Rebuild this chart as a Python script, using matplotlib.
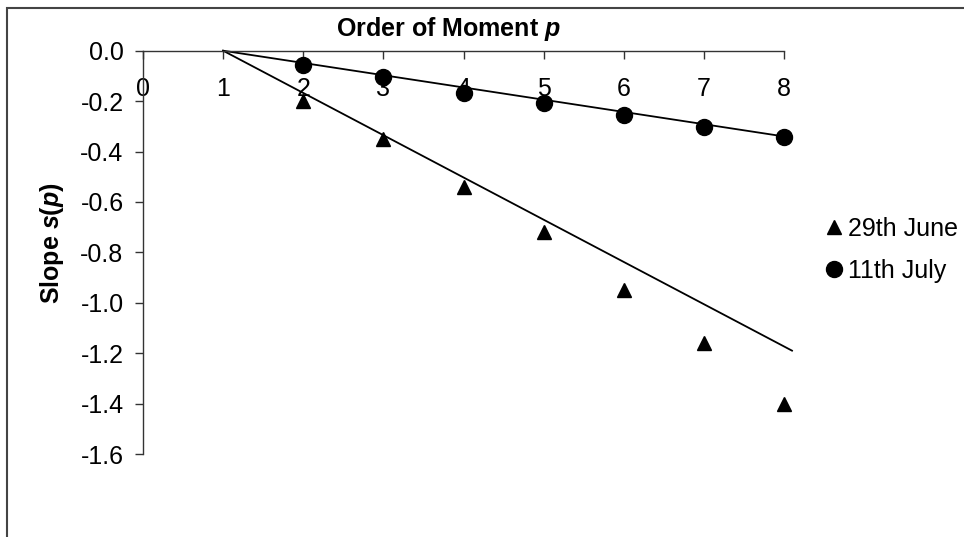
import numpy as np
import matplotlib
matplotlib.use("Agg")
import matplotlib.pyplot as plt
from matplotlib.patches import Rectangle

plt.rcParams['font.family'] = ['Liberation Sans', 'DejaVu Sans']
plt.rcParams['axes.unicode_minus'] = False
plt.rcParams['mathtext.fontset'] = 'custom'
plt.rcParams['mathtext.it'] = 'Liberation Sans:italic:bold'
plt.rcParams['mathtext.rm'] = 'Liberation Sans:bold'

# data
order_p = [2, 3, 4, 5, 6, 7, 8]
june_slope = [-0.20, -0.35, -0.54, -0.72, -0.95, -1.16, -1.40]
july_slope = [-0.057, -0.103, -0.169, -0.209, -0.255, -0.301, -0.341]

# straight reference lines (start at p=1, s=0)
fit_p = [1, 8.1]
june_fit = [0.0, -1.19]
july_fit = [0.0, -0.345]

x_ticks = [0, 1, 2, 3, 4, 5, 6, 7, 8]
y_ticks = [0.0, -0.2, -0.4, -0.6, -0.8, -1.0, -1.2, -1.4, -1.6]

W, H = 964, 537
fig = plt.figure(figsize=(W / 100, H / 100), dpi=100)
ax = fig.add_axes([143 / W, 1 - 454 / H, (784 - 143) / W, (454 - 50.7) / H])

fs = 18

ax.plot(fit_p, june_fit, color='black', lw=1.3, clip_on=False)
ax.plot(fit_p, july_fit, color='black', lw=1.3, clip_on=False)
ax.plot(order_p, june_slope, ls='none', marker='^', ms=9.5, color='black',
        label='29th June', clip_on=False)
ax.plot(order_p, july_slope, ls='none', marker='o', ms=11.5, color='black',
        label='11th July', clip_on=False)

ax.set_xlim(0, 8)
ax.set_ylim(-1.6, 0)
ax.spines['top'].set_visible(False)
ax.spines['right'].set_visible(False)
ax.spines['bottom'].set_position(('data', 0))
for s in ['left', 'bottom']:
    ax.spines[s].set_color('#333333')
    ax.spines[s].set_linewidth(1.0)

ax.set_xticks(x_ticks)
ax.set_xticklabels([str(v) for v in x_ticks])
ax.set_yticks(y_ticks)
ax.set_yticklabels(['%.1f' % v for v in y_ticks])
ax.tick_params(axis='x', direction='out', length=6, width=1, color='#333333',
               pad=13, labelsize=fs)
ax.tick_params(axis='y', direction='out', length=6, width=1, color='#333333',
               pad=8, labelsize=fs)
ax.patch.set_visible(False)

fig.text(448 / W, 1 - 29 / H, r'Order of Moment $\mathit{p}$', ha='center', va='center',
         fontsize=fs, fontweight='bold')
fig.text(52 / W, 1 - 243 / H, r'Slope $\mathit{s(p)}$', ha='center', va='center',
         rotation=90, fontsize=fs, fontweight='bold')

fig.legend(loc='upper left', bbox_to_anchor=(826 / W, 1 - 217 / H), frameon=False,
           fontsize=fs, handlelength=0.6, handletextpad=0.3, labelspacing=0.72,
           borderpad=0, borderaxespad=0)

fig.patches.append(Rectangle((7 / W, -0.1), 1.2, 1.1 - 8 / H,
                             transform=fig.transFigure, fill=False,
                             edgecolor='#444444', lw=1.5))

fig.savefig('out.png', dpi=100)
